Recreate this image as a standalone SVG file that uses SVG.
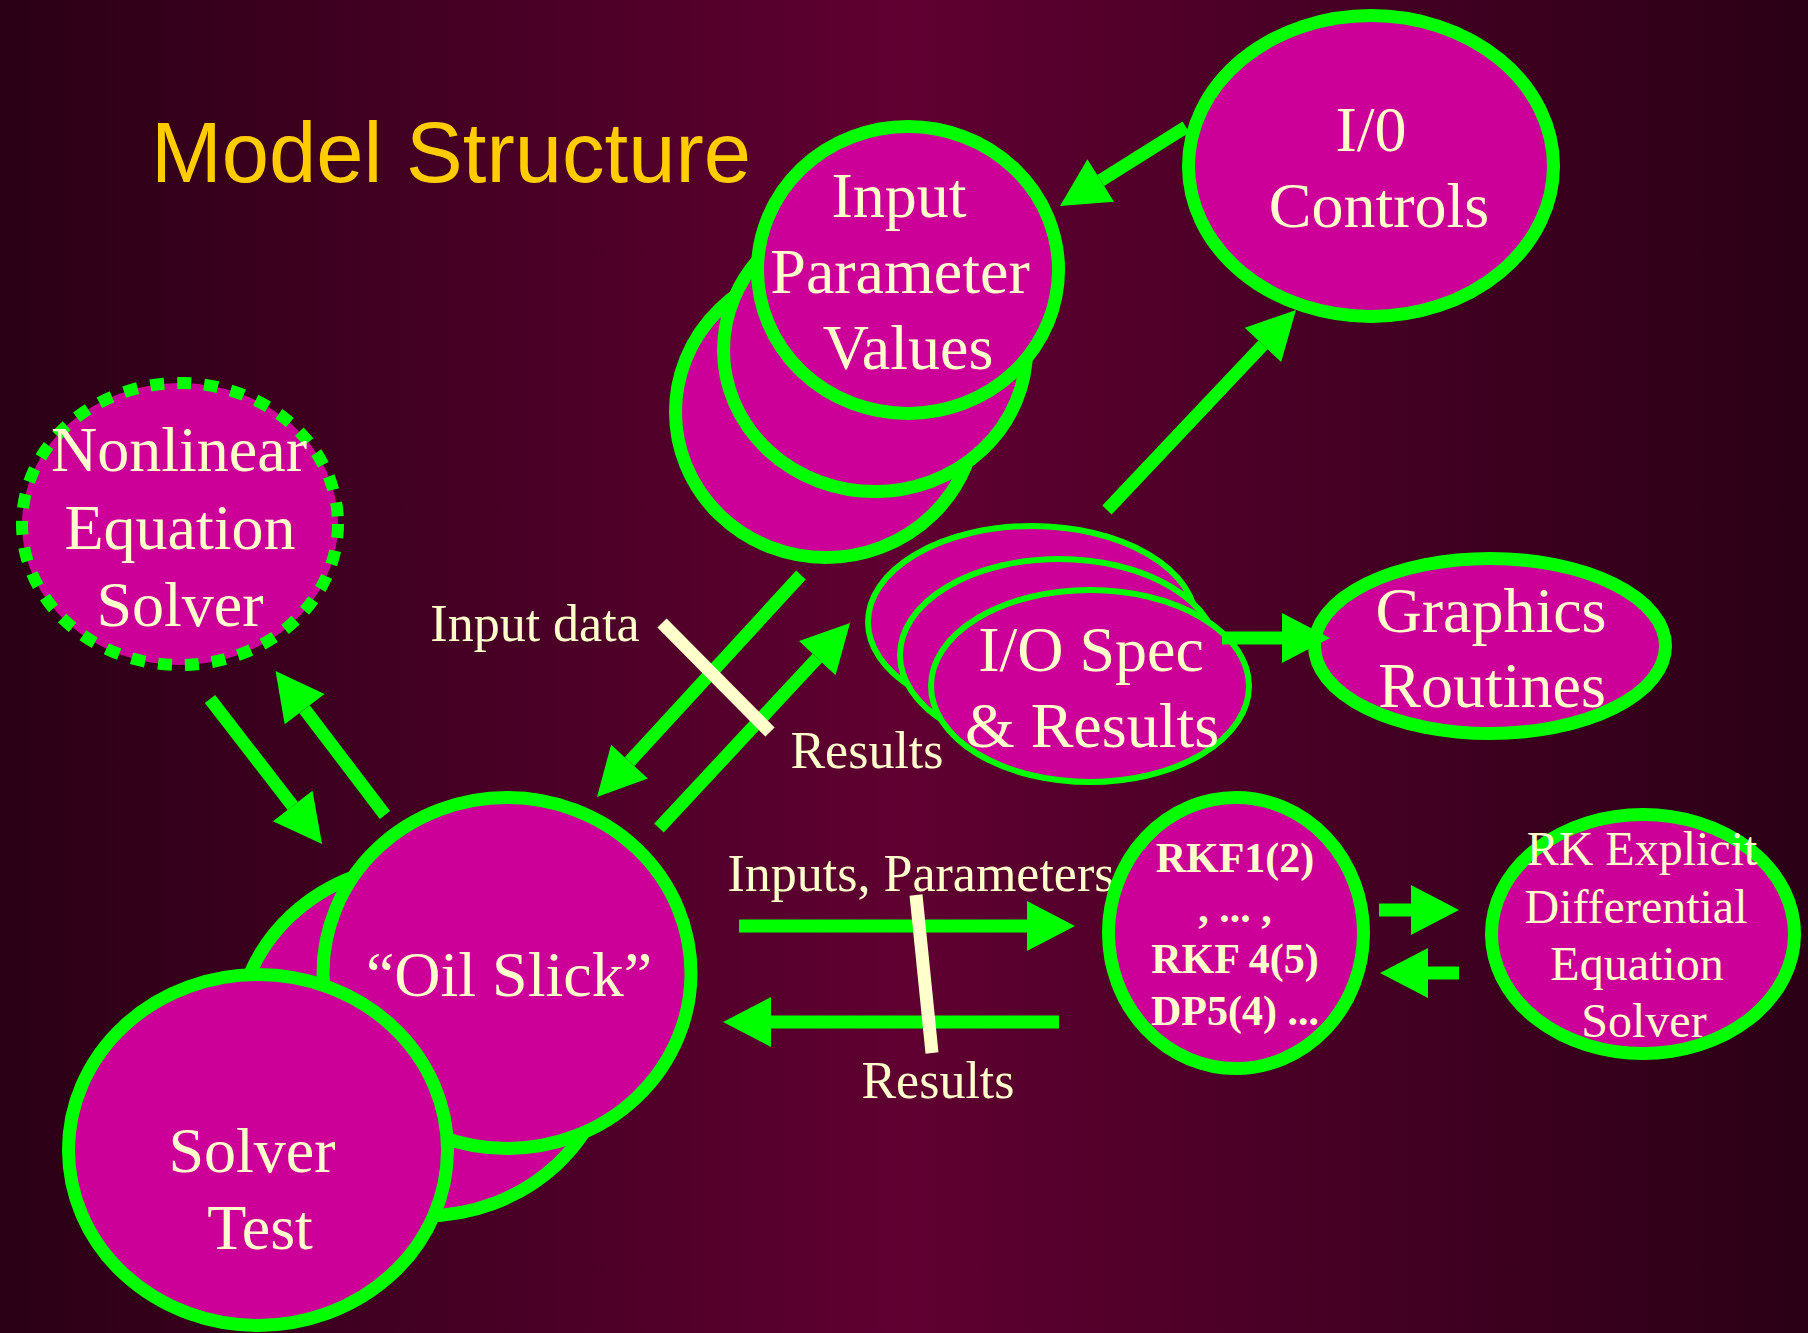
<svg xmlns="http://www.w3.org/2000/svg" width="1808" height="1333" viewBox="0 0 1808 1333">
  <defs>
    <linearGradient id="bg" gradientUnits="userSpaceOnUse" x1="0" y1="0" x2="1808" y2="0">
      <stop offset="0" stop-color="#2a0015"/>
      <stop offset="0.5" stop-color="#5f0031"/>
      <stop offset="1" stop-color="#2a0015"/>
    </linearGradient>
    <marker id="head" markerUnits="userSpaceOnUse" markerWidth="48" markerHeight="50" refX="0" refY="25" orient="auto" overflow="visible">
      <path d="M0,0 L48,25 L0,50 Z" fill="#00ff00"/>
    </marker>
    <style>
      .node { fill: #cc0099; stroke: #00ff00; stroke-width: 13; }
      .thin { stroke-width: 6; }
      .dotted { stroke-width: 12; stroke-dasharray: 14 13; }
      .lbl { font-family: "Liberation Serif", "Times New Roman", serif; font-size: 64px; fill: #ffffcc; text-anchor: middle; }
      .rkf { font-family: "Liberation Serif", "Times New Roman", serif; font-size: 42px; font-weight: bold; fill: #ffffcc; text-anchor: middle; }
      .rk { font-family: "Liberation Serif", "Times New Roman", serif; font-size: 48px; fill: #ffffcc; text-anchor: middle; }
      .edge-lbl { font-family: "Liberation Serif", "Times New Roman", serif; font-size: 52px; fill: #ffffcc; text-anchor: middle; }
      .title { font-family: "Liberation Sans", Arial, sans-serif; font-size: 85px; fill: #ffcc00; }
      .arrow { stroke: #00ff00; stroke-width: 13; fill: none; marker-end: url(#head); }
      .slash { stroke: #ffffcc; stroke-width: 13; fill: none; }
    </style>
  </defs>

  <rect x="0" y="0" width="1808" height="1333" fill="url(#bg)"/>

  <text class="title" x="151" y="182">Model Structure</text>

  <!-- connector labels (sit beneath the nodes) -->
  <g id="edge-labels">
    <text class="edge-lbl" x="535" y="641">Input data</text>
    <text class="edge-lbl" x="867" y="768">Results</text>
    <text class="edge-lbl" x="921" y="891">Inputs, Parameters</text>
    <text class="edge-lbl" x="938" y="1098">Results</text>
  </g>

  <g id="nodes">
    <g id="input-parameter-values">
      <ellipse class="node" cx="826" cy="412" rx="150.5" ry="145.5"/>
      <ellipse class="node" cx="875" cy="350" rx="151.5" ry="141.5"/>
      <ellipse class="node" cx="908" cy="270" rx="150.5" ry="143.5"/>
      <text class="lbl" x="899" y="217">Input</text>
      <text class="lbl" x="900" y="293">Parameter</text>
      <text class="lbl" x="908" y="369">Values</text>
    </g>

    <g id="io-controls">
      <ellipse class="node" cx="1371" cy="166" rx="182.5" ry="150.5"/>
      <text class="lbl" x="1371" y="151">I/0</text>
      <text class="lbl" x="1379" y="227">Controls</text>
    </g>

    <g id="nonlinear-solver">
      <ellipse class="node dotted" cx="180" cy="524" rx="158" ry="141"/>
      <text class="lbl" x="179" y="471">Nonlinear</text>
      <text class="lbl" x="180" y="549">Equation</text>
      <text class="lbl" x="180" y="626">Solver</text>
    </g>

    <g id="io-spec-results">
      <ellipse class="node thin" cx="1032" cy="622" rx="164" ry="96"/>
      <ellipse class="node thin" cx="1059" cy="655" rx="159" ry="96"/>
      <ellipse class="node thin" cx="1090" cy="686" rx="159" ry="96"/>
      <text class="lbl" x="1091" y="671">I/O Spec</text>
      <text class="lbl" x="1092" y="747">&amp; Results</text>
    </g>

    <g id="graphics-routines">
      <ellipse class="node" cx="1490" cy="646" rx="175.5" ry="87.5"/>
      <text class="lbl" x="1491" y="632">Graphics</text>
      <text class="lbl" x="1492" y="707">Routines</text>
    </g>

    <g id="oil-slick">
      <ellipse class="node" cx="424" cy="1040" rx="188" ry="176"/>
      <ellipse class="node" cx="507" cy="973" rx="184" ry="175.5"/>
      <text class="lbl" x="509" y="996">“Oil Slick”</text>
    </g>

    <g id="solver-test">
      <ellipse class="node" cx="258" cy="1150" rx="189.5" ry="175.5"/>
      <text class="lbl" x="252" y="1172">Solver</text>
      <text class="lbl" x="260" y="1249">Test</text>
    </g>

    <g id="rkf-methods">
      <ellipse class="node" cx="1236" cy="933" rx="127.5" ry="135.5"/>
      <text class="rkf" x="1235" y="872">RKF1(2)</text>
      <text class="rkf" x="1235" y="922">, ... ,</text>
      <text class="rkf" x="1235" y="973">RKF 4(5)</text>
      <text class="rkf" x="1235" y="1025">DP5(4) ...</text>
    </g>

    <g id="rk-explicit-solver">
      <ellipse class="node" cx="1643" cy="934" rx="151.5" ry="119.5"/>
      <text class="rk" x="1642" y="865">RK Explicit</text>
      <text class="rk" x="1636" y="923">Differential</text>
      <text class="rk" x="1637" y="980">Equation</text>
      <text class="rk" x="1644" y="1037">Solver</text>
    </g>
  </g>

  <g id="connectors">
    <line class="arrow" x1="1186" y1="127" x2="1100.7" y2="180.5"/>
    <line class="arrow" x1="1107" y1="510" x2="1263" y2="344.9"/>
    <line class="arrow" x1="1222" y1="638" x2="1282" y2="638"/>
    <line class="arrow" x1="801" y1="575" x2="629.5" y2="761.7"/>
    <line class="arrow" x1="659" y1="828" x2="817.3" y2="658.1"/>
    <line class="arrow" x1="210" y1="699" x2="292.7" y2="806"/>
    <line class="arrow" x1="385" y1="815" x2="304.6" y2="709.2"/>
    <line class="arrow" x1="739" y1="926" x2="1027" y2="926"/>
    <line class="arrow" x1="1059" y1="1022" x2="771" y2="1022"/>
    <line class="arrow" x1="1379" y1="910" x2="1411" y2="910"/>
    <line class="arrow" x1="1459" y1="973" x2="1428" y2="973"/>
    <line class="slash" x1="662" y1="623" x2="770" y2="732"/>
    <line class="slash" x1="916" y1="895" x2="932" y2="1053"/>
  </g>
</svg>
